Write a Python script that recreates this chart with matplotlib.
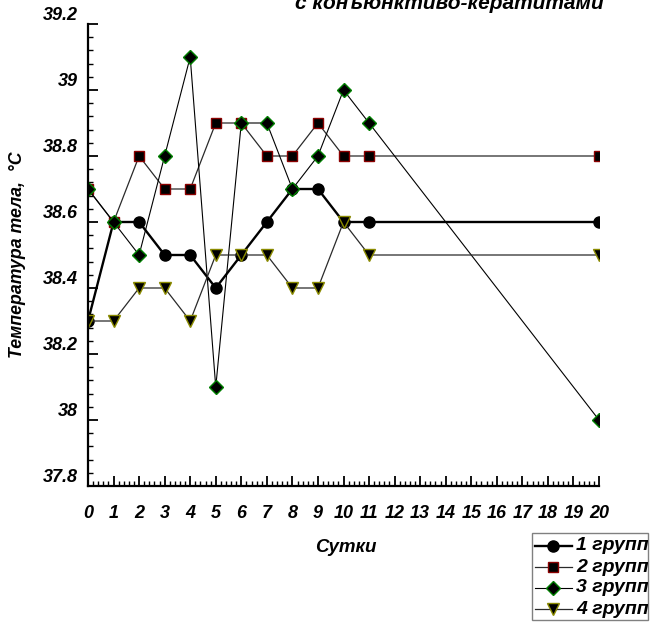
import matplotlib
matplotlib.use('Agg')
import matplotlib.pyplot as plt
from matplotlib.lines import Line2D
from matplotlib.patches import Rectangle
from matplotlib.ticker import MultipleLocator, FixedLocator
import matplotlib.transforms as mtransforms

# ---- data ----
days = [0, 1, 2, 3, 4, 5, 6, 7, 8, 9, 10, 11, 20]
group1 = [38.3, 38.6, 38.6, 38.5, 38.5, 38.4, 38.5, 38.6, 38.7, 38.7, 38.6, 38.6, 38.6]
group2 = [38.7, 38.6, 38.8, 38.7, 38.7, 38.9, 38.9, 38.8, 38.8, 38.9, 38.8, 38.8, 38.8]
group3 = [38.7, 38.6, 38.5, 38.8, 39.1, 38.1, 38.9, 38.9, 38.7, 38.8, 39.0, 38.9, 38.0]
group4 = [38.3, 38.3, 38.4, 38.4, 38.3, 38.5, 38.5, 38.5, 38.4, 38.4, 38.6, 38.5, 38.5]
series_labels = ['1 группа', '2 группа', '3 группа', '4 группа']
xtick_values = list(range(0, 21))
ytick_values = [37.8, 38.0, 38.2, 38.4, 38.6, 38.8, 39.0, 39.2]
ytick_labels = ['37.8', '38', '38.2', '38.4', '38.6', '38.8', '39', '39.2']
title_text = 'с конъюнктиво-кератитами'
xlabel_text = 'Сутки'
ylabel_text = 'Температура тела,  °С'

FONT = 'Liberation Sans'
W, H = 651, 625

def fx(px):
    return px / W

def fy(py):
    return 1 - py / H

fig = plt.figure(figsize=(W / 100, H / 100), dpi=100)
ax = fig.add_axes([fx(88), fy(486), fx(599) - fx(88), fy(24) - fy(486)])

styles = [
    dict(marker='o', ms=8, mfc='black', mec='black', color='black', lw=1.7, mew=1),
    dict(marker='s', ms=7.6, mfc='black', mec='#8B0000', color='#2a2a2a', lw=0.9, mew=1),
    dict(marker='D', ms=7.6, mfc='black', mec='#008000', color='black', lw=0.8, mew=1),
    dict(marker='v', ms=8.5, mfc='black', mec='#8B8B00', color='#2a2a2a', lw=0.9, mew=1),
]
all_groups = [group1, group2, group3, group4]
for vals, st in zip(all_groups, styles):
    ax.plot(days, vals, **st)

ax.set_xlim(0, 20)
ax.set_ylim(37.8, 39.2)

for s in ['top', 'right']:
    ax.spines[s].set_visible(False)
for s in ['left', 'bottom']:
    ax.spines[s].set_linewidth(1.6)

ax.xaxis.set_major_locator(FixedLocator(xtick_values))
ax.xaxis.set_minor_locator(MultipleLocator(0.2))
ax.set_xticklabels([str(v) for v in xtick_values])
ax.yaxis.set_major_locator(FixedLocator(ytick_values))
ax.yaxis.set_minor_locator(MultipleLocator(0.04))
ax.set_yticklabels(ytick_labels)

ax.tick_params(axis='both', which='major', direction='in', length=7.5, width=1.3)
ax.tick_params(axis='both', which='minor', direction='in', length=3.8, width=1.0)
ax.tick_params(axis='x', which='major', pad=14)
ax.tick_params(axis='y', which='major', pad=7)

for lab in ax.get_xticklabels() + ax.get_yticklabels():
    lab.set_fontfamily(FONT)
    lab.set_fontweight('bold')
    lab.set_fontstyle('italic')
    lab.set_fontsize(13)

shift = mtransforms.ScaledTranslation(0, 10 / 100, fig.dpi_scale_trans)
for lab in ax.get_yticklabels():
    lab.set_transform(lab.get_transform() + shift)

txt_kw = dict(family=FONT, weight='bold', style='italic')
fig.text(fx(604), fy(9), title_text, ha='right', va='baseline', fontsize=15, **txt_kw)
fig.text(fx(346), fy(548), xlabel_text, ha='center', va='center', fontsize=13.5, **txt_kw)
fig.text(fx(18), fy(255), ylabel_text, ha='center', va='center', rotation=90, fontsize=12.8, **txt_kw)

# ---- legend (manual, clipped at right like the original) ----
bx0, by0, bx1, by1 = 532, 533, 648, 620
rect = Rectangle((fx(bx0), fy(by1)), fx(bx1) - fx(bx0), fy(by0) - fy(by1),
                 transform=fig.transFigure, fill=False, edgecolor='#808080', lw=1.0)
fig.add_artist(rect)
clip = mtransforms.TransformedBbox(
    mtransforms.Bbox.from_extents(fx(bx0), fy(by1), fx(bx1), fy(by0)), fig.transFigure)
rows = [546, 567, 588, 609]
for ry, st, lbl in zip(rows, styles, series_labels):
    line_kw = {k: v for k, v in st.items() if k in ('color', 'lw')}
    fig.add_artist(Line2D([fx(535), fx(572)], [fy(ry), fy(ry)], transform=fig.transFigure, **line_kw))
    mk = {k: v for k, v in st.items() if k in ('marker', 'ms', 'mfc', 'mec', 'mew')}
    fig.add_artist(Line2D([fx(553)], [fy(ry)], transform=fig.transFigure, ls='none', **mk))
    t = fig.text(fx(576), fy(ry), lbl, ha='left', va='center', fontsize=14, **txt_kw)
    t.set_clip_box(clip)
    t.set_clip_on(True)

fig.savefig('out.png', dpi=100)
